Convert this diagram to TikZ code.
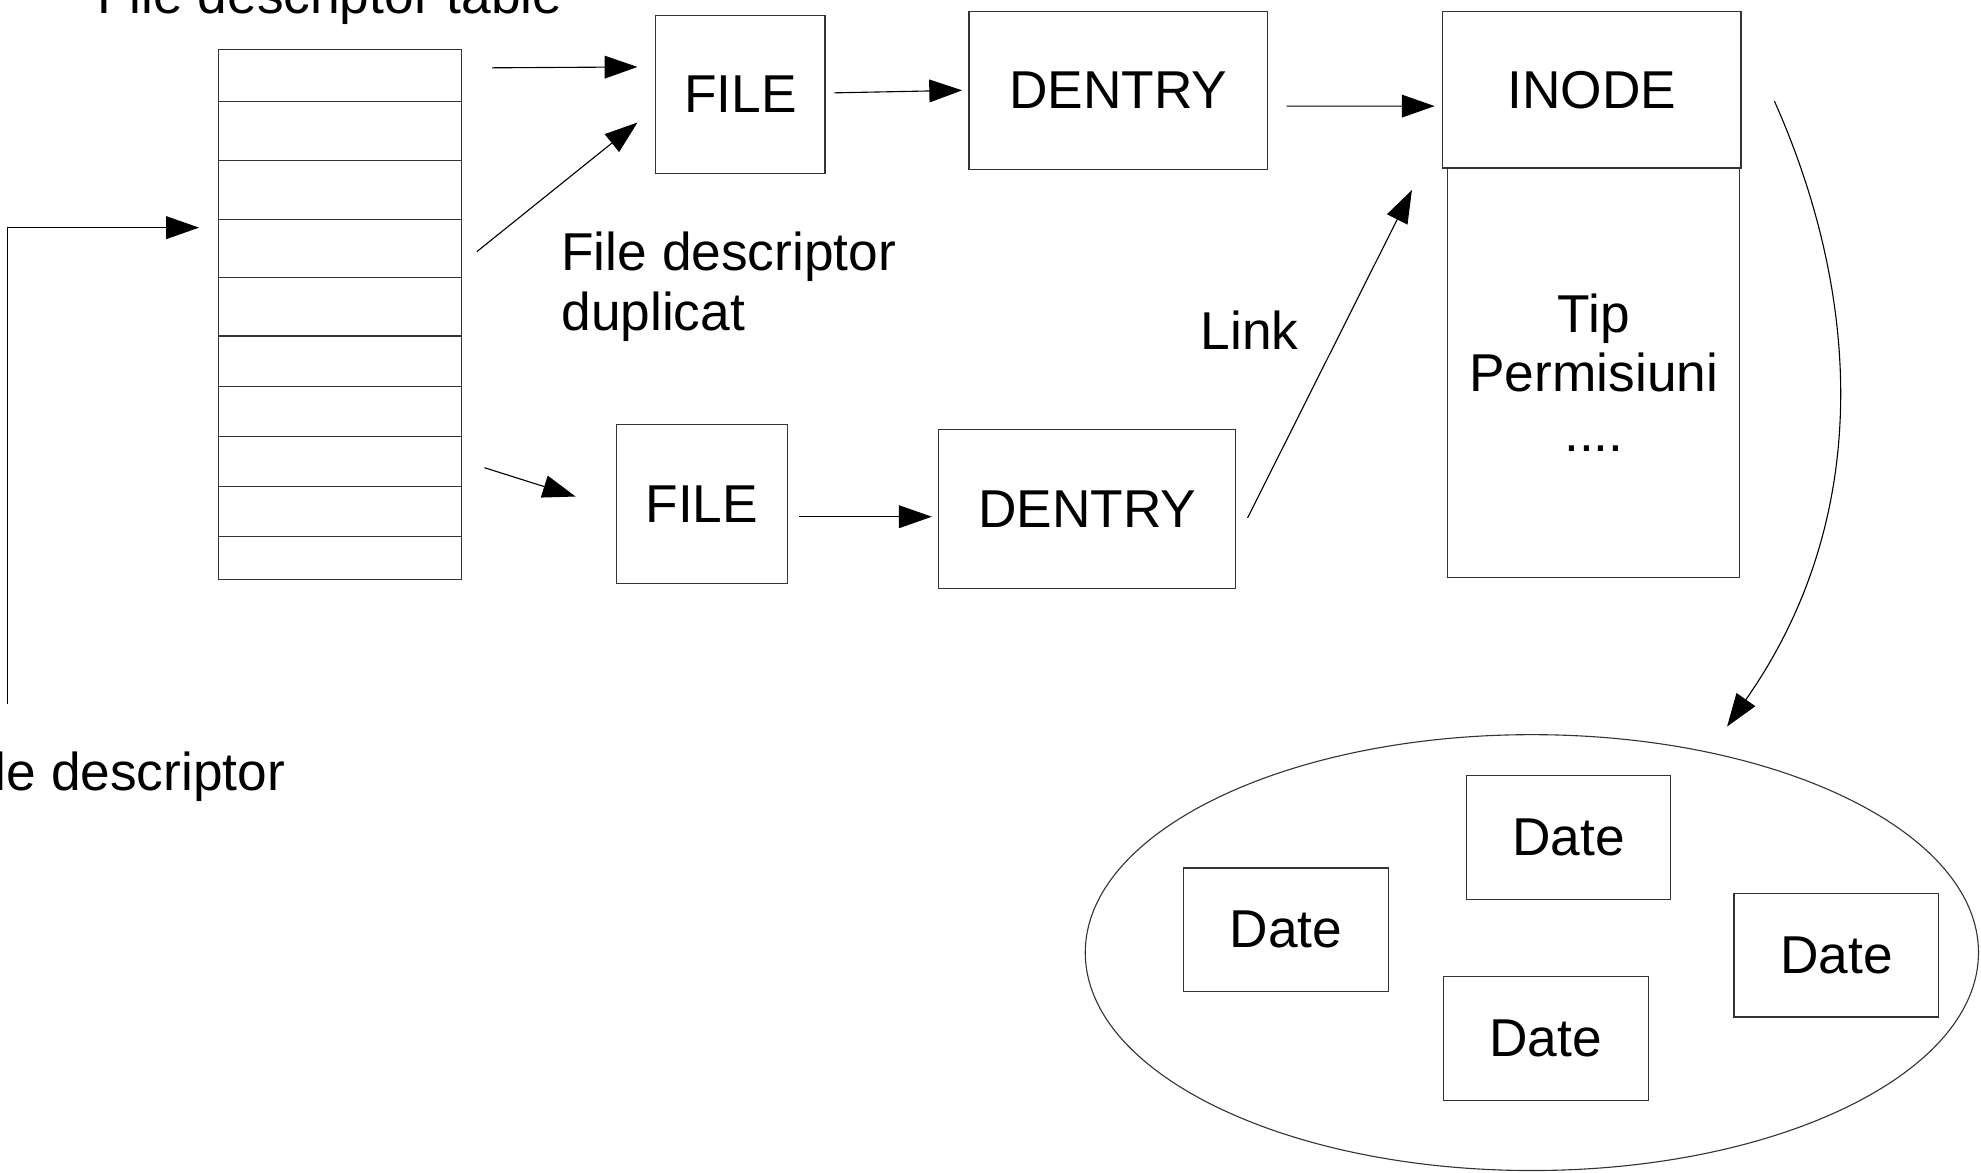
\documentclass[tikz,border=0pt]{standalone}
\usepackage{fontspec}
\setmainfont{Liberation Sans}
\usetikzlibrary{arrows.meta,positioning,shapes.geometric,calc}
\definecolor{edge}{HTML}{333333}

\begin{document}
\begin{tikzpicture}[
    every node/.style={font=\fontsize{24}{26.8}\selectfont, inner sep=0pt},
    box/.style={rectangle, draw=edge, line width=0.5pt, align=center},
    cell/.style={rectangle, draw=edge, line width=0.5pt, minimum width=3.84cm, anchor=north},
    datebox/.style={box, minimum width=3.24cm, minimum height=1.96cm},
    arr/.style={-{Triangle[length=5.2mm, width=3.6mm]}, line width=0.5pt, black},
]
\useasboundingbox (0,0) rectangle (31.36,18.56);

% File descriptor table
\node[anchor=base] (fdtitle) at (5.22, 18.34) {File descriptor table};
\foreach \i/\top/\bot in {1/17.79/16.96, 2/16.96/16.03, 3/16.03/15.10, 4/15.10/14.17,
    5/14.17/13.25, 6/13.25/12.45, 7/12.45/11.66, 8/11.66/10.87, 9/10.87/10.07, 10/10.07/9.39}
    \node[cell, minimum height={(\top-\bot)*1cm}] (cell\i) at (5.38, \top) {};

% File descriptor
\node[anchor=base east] (fdlabel) at (4.52, 6.05) {File descriptor};
\coordinate (fdstart) at (0.12, 7.42);
\draw[arr] (fdstart) |- ($(cell4.west)+(-0.30,0.33)$);

% Open files
\node[box, minimum width=2.68cm, minimum height=2.50cm] (file1) at (11.72, 17.07) {FILE};
\node[box, minimum width=4.72cm, minimum height=2.50cm] (dentry1) at (17.70, 17.13) {DENTRY};
\node[box, minimum width=2.70cm, minimum height=2.52cm] (file2) at (11.11, 10.58) {FILE};
\node[box, minimum width=4.70cm, minimum height=2.52cm] (dentry2) at (17.21, 10.50) {DENTRY};

\node[anchor=west, align=left] (duplabel) at (8.88, 14.02) {File descriptor\\duplicat};
\node[anchor=base] (linklabel) at (19.78, 13.02) {Link};

% Inode
\node[box, minimum width=4.72cm, minimum height=2.48cm] (inode) at (25.20, 17.14) {INODE};
\node[box, minimum width=4.62cm, minimum height=6.48cm] (inodeinfo) at (25.23, 12.66) {Tip\\Permisiuni\\....};

% Data blocks
\node[ellipse, draw=edge, line width=0.5pt, minimum width=14.14cm, minimum height=6.90cm] (pool) at (24.25, 3.48) {};
\node[datebox] (date1) at (20.36, 3.84) {Date};
\node[datebox] (date2) at (24.83, 5.30) {Date};
\node[datebox] (date3) at (29.07, 3.44) {Date};
\node[datebox] (date4) at (24.47, 2.12) {Date};

% Arrows
\draw[arr] ($(cell1.east)+(0.48,0.12)$) -- ($(file1.west)+(-0.28,0.43)$);
\draw[arr] ($(cell4.east)+(0.24,-0.05)$) -- ($(file1.west)+(-0.28,-0.45)$);
\draw[arr] ($(cell8.east)+(0.36,-0.10)$) -- ($(file2.west)+(-0.64,0.12)$);
\draw[arr] ($(file1.east)+(0.14,0.02)$) -- ($(dentry1.west)+(-0.10,0)$);
\draw[arr] ($(dentry1.east)+(0.30,-0.25)$) -- ($(inode.west)+(-0.12,-0.26)$);
\draw[arr] ($(file2.east)+(0.18,-0.20)$) -- ($(dentry2.west)+(-0.10,-0.12)$);
\draw[arr] ($(dentry2.east)+(0.18,-0.14)$) -- ($(inode.south west)+(-0.48,-0.34)$);
\draw[arr] ($(inode.east)+(0.52,-0.18)$) .. controls +(1.25,-2.8) and +(2.45,3.5) .. ($(pool.north)+(3.09,0.12)$);

\end{tikzpicture}
\end{document}
